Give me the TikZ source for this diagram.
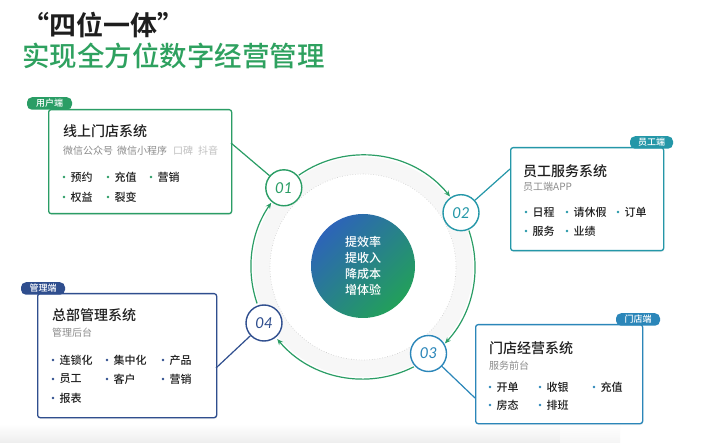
\documentclass[tikz,border=0pt]{standalone}
\usepackage{fontspec}
\setmainfont{Noto Sans CJK SC}
\newfontfamily\cjkm{Noto Sans CJK SC}[UprightFont={* Medium},BoldFont={* Bold}]
\newfontfamily\cjkb{Noto Sans CJK SC}[UprightFont={* Bold}]
\newfontfamily\numfont{Lato}
\usetikzlibrary{arrows.meta,shadows,calc}
\definecolor{cgreen}{HTML}{2A9D65}
\definecolor{cteal}{HTML}{2497A8}
\definecolor{cblue}{HTML}{2B86B9}
\definecolor{cnavy}{HTML}{2F4E8E}
\definecolor{tgreen}{HTML}{2EA15F}
\definecolor{gblue}{HTML}{2D64B8}
\definecolor{ggreen}{HTML}{22A05A}
\definecolor{subgray}{HTML}{8C8C8C}
\definecolor{lightgray}{HTML}{C0C0C0}
\definecolor{txt}{HTML}{1E1E1E}
\newcommand\mybul[6]{%
  \fill[#4] (#2,-#3) circle[radius=1.3pt];
  \node[bultext,anchor=west] (#1) at (#2+6.5,-#3) {#5#6};}
\begin{document}
\begin{tikzpicture}[x=1pt,y=1pt,
  card/.style={draw=#1,line width=1.3pt,fill=white,rounded corners=2.5pt,
    drop shadow={opacity=0.10,shadow xshift=0.6pt,shadow yshift=-1.4pt},
    inner sep=0pt,anchor=north west},
  tagbox/.style={fill=#1,rounded corners=5pt,text=white,
    font=\cjkm\fontsize{9}{9}\selectfont,inner sep=0pt,minimum height=12.5pt},
  num/.style={circle,draw=#1,line width=1.4pt,fill=white,minimum size=36pt,
    inner sep=0pt,text=#1,font=\numfont\itshape\fontsize{15}{15}\selectfont},
  cardtitle/.style={anchor=west,inner sep=0pt,text=txt,font=\cjkm\fontsize{14}{14}\selectfont},
  subtext/.style={anchor=west,inner sep=0pt,text=subgray,font=\fontsize{10}{10}\selectfont},
  bultext/.style={inner sep=0pt,text=txt,font=\cjkm\fontsize{11}{11}\selectfont},
  ringarc/.style={draw=cgreen,line width=1.2pt,-{Stealth[length=6pt,width=5pt]}},
  link/.style={line width=1.2pt}
]
\useasboundingbox (0,0) rectangle (720,-443);
\fill[white] (0,0) rectangle (720,-443);
\shade[top color=white,bottom color=black!7] (0,-424) rectangle (560,-443);
\shade[top color=white,bottom color=black!4] (560,-424) rectangle (620,-443);

% titles
\node[anchor=west,inner sep=0pt,font=\cjkb\fontsize{27}{27}\selectfont,text=txt] (t1) at (22,-25) {“四位一体”};
\node[anchor=west,inner sep=0pt,font=\cjkm\fontsize{27.5}{27.5}\selectfont,text=tgreen] (t2) at (22,-56) {实现全方位数字经营管理};

% halo and ring
\coordinate (C) at (363,-267);
\fill[black!3] (C) circle[radius=110pt];
\fill[white] (C) circle[radius=93pt];
\draw[black!22,dotted,line width=0.6pt] (C) circle[radius=93pt];

\draw[ringarc] ($(C)+(125:112pt)$) arc[start angle=125,end angle=39,radius=112pt];
\draw[ringarc] ($(C)+(19:112pt)$) arc[start angle=19,end angle=-43,radius=112pt];
\draw[ringarc] ($(C)+(-63:112pt)$) arc[start angle=-63,end angle=-140,radius=112pt];
\draw[ringarc] ($(C)+(-161:112pt)$) arc[start angle=-161,end angle=-215,radius=112pt];

% core
\node[circle,minimum size=104pt,inner sep=0pt,top color=gblue,bottom color=ggreen,
  shading angle=45,align=center,text=white,
  font=\cjkm\fontsize{12}{16}\selectfont] (core) at (363,-266) {提效率\\提收入\\降成本\\增体验};

% cards
\node[card=cgreen,minimum width=183pt,minimum height=104pt] (box1) at (48,-109) {};
\node[card=cteal,minimum width=153pt,minimum height=103pt] (box2) at (510,-147) {};
\node[card=cblue,minimum width=167pt,minimum height=99pt] (box3) at (475,-324) {};
\node[card=cnavy,minimum width=179pt,minimum height=124pt] (box4) at (37,-293) {};

% tags
\node[tagbox=cgreen,minimum width=45pt] (tag1) at (49.5,-103.5) {用户端};
\node[tagbox=cteal,minimum width=43pt] (tag2) at (651.5,-142.5) {员工端};
\node[tagbox=cblue,minimum width=44pt] (tag3) at (638,-319.5) {门店端};
\node[tagbox=cnavy,minimum width=44pt] (tag4) at (43,-288.5) {管理端};

% number nodes
\node[num=cgreen] (n1) at (283.8,-187.8) {01};
\node[num=cteal] (n2) at (461,-212.7) {02};
\node[num=cblue] (n3) at (428.5,-353.5) {03};
\node[num=cnavy] (n4) at (264,-323) {04};

% connectors
\coordinate (e1) at (231,-143);
\coordinate (e2) at (510,-169);
\coordinate (e3) at (475,-398);
\coordinate (e4) at (216,-368);
\draw[link,cgreen] (e1) -- (n1);
\draw[link,cteal] (e2) -- (n2);
\draw[link,cblue] (e3) -- (n3);
\draw[link,cnavy] (e4) -- (n4);

% card 1
\node[cardtitle] (h1) at (63,-131) {线上门店系统};
\node[subtext] (s1a) at (63,-151) {微信公众号};
\node[subtext] (s1b) at (117,-151) {微信小程序};
\node[subtext,text=lightgray] (s1c) at (173,-151) {口碑};
\node[subtext,text=lightgray] (s1d) at (198,-151) {抖音};
\mybul{b11}{64}{177}{cgreen}{预约}{}
\mybul{b12}{108}{177}{cgreen}{充值}{}
\mybul{b13}{151}{177}{cgreen}{营销}{}
\mybul{b14}{64}{197}{cgreen}{权益}{}
\mybul{b15}{108}{197}{cgreen}{裂变}{}

% card 2
\node[cardtitle] (h2) at (523,-171) {员工服务系统};
\node[subtext] (s2) at (523,-187) {员工端APP};
\mybul{b21}{526}{212}{cteal}{日程}{}
\mybul{b22}{567}{212}{cteal}{请休假}{}
\mybul{b23}{618}{212}{cteal}{订单}{}
\mybul{b24}{526}{231}{cteal}{服务}{}
\mybul{b25}{567}{231}{cteal}{业绩}{}

% card 3
\node[cardtitle] (h3) at (489,-348) {门店经营系统};
\node[subtext] (s3) at (489,-366) {服务前台};
\mybul{b31}{490}{387}{cblue}{开单}{}
\mybul{b32}{540}{387}{cblue}{收银}{}
\mybul{b33}{594}{387}{cblue}{充值}{}
\mybul{b34}{490}{405}{cblue}{房态}{}
\mybul{b35}{540}{405}{cblue}{排班}{}

% card 4
\node[cardtitle] (h4) at (52,-315) {总部管理系统};
\node[subtext] (s4) at (52,-333) {管理后台};
\mybul{b41}{53}{360}{cnavy}{连锁化}{}
\mybul{b42}{107}{360}{cnavy}{集中化}{}
\mybul{b43}{163}{360}{cnavy}{产品}{}
\mybul{b44}{53}{379}{cnavy}{员工}{}
\mybul{b45}{107}{379}{cnavy}{客户}{}
\mybul{b46}{163}{379}{cnavy}{营销}{}
\mybul{b47}{53}{398}{cnavy}{报表}{}
\end{tikzpicture}
\end{document}
